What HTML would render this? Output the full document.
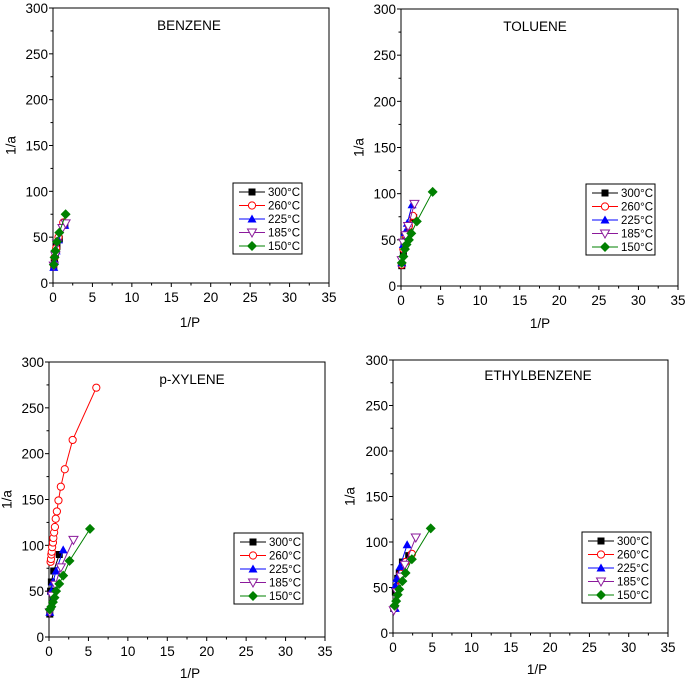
<!DOCTYPE html>
<html><head><meta charset="utf-8"><style>
body{margin:0;background:#fff}
svg{display:block;font-family:"Liberation Sans",Arial,sans-serif}
</style></head><body>
<svg id="chart" width="685" height="681" viewBox="0 0 685 681"></svg>
<script>
const seriesLabels = ["300°C","260°C","225°C","185°C","150°C"];
const seriesColors = ["#000000","#ff0000","#0000ff","#8b1a9b","#008000"];
const xTicks = [0,5,10,15,20,25,30,35];
const yTicks = [0,50,100,150,200,250,300];
const panelTitles = ["BENZENE","TOLUENE","p-XYLENE","ETHYLBENZENE"];

const benzene300 = [[0.1,18],[0.2,25],[0.3,32],[0.5,40],[0.8,48],[1.5,63]];
const benzene260 = [[0.1,20],[0.2,28],[0.4,38],[0.7,50],[1.3,66]];
const benzene225 = [[0.1,17],[0.2,24],[0.4,35],[0.7,47],[1.5,63]];
const benzene185 = [[0.1,19],[0.3,30],[0.5,43],[1.2,60],[1.6,65]];
const benzene150 = [[0.1,20],[0.2,28],[0.3,35],[0.5,45],[0.8,55],[1.6,75]];

const toluene300 = [[0.1,22],[0.3,35],[0.6,50],[1.0,60],[1.6,74]];
const toluene260 = [[0.1,23],[0.3,40],[0.6,55],[1.0,65],[1.5,76]];
const toluene225 = [[0.1,25],[0.3,45],[0.5,58],[0.8,68],[1.4,88]];
const toluene185 = [[0.1,28],[0.3,47],[0.6,55],[0.9,65],[1.7,89]];
const toluene150 = [[0.1,25],[0.3,32],[0.5,40],[0.7,45],[1.0,50],[1.3,57],[2.0,70],[4.0,102]];

const xylene300 = [[0.1,25],[0.2,50],[0.3,60],[0.6,72],[1.3,90]];
const xylene260 = [[0.2,82],[0.25,85],[0.3,90],[0.35,93],[0.4,98],[0.5,103],[0.55,108],[0.65,114],[0.75,120],[0.85,129],[1.0,137],[1.2,149],[1.5,164],[2.0,183],[3.0,215],[6.0,272]];
const xylene225 = [[0.1,27],[0.3,50],[0.5,60],[0.9,72],[1.8,95]];
const xylene185 = [[0.1,27],[0.4,45],[0.8,57],[1.5,76],[3.1,106]];
const xylene150 = [[0.1,30],[0.3,33],[0.5,38],[0.7,43],[0.9,50],[1.3,58],[1.8,67],[2.6,83],[5.2,118]];

const ethyl300 = [[0.1,27],[0.3,45],[0.6,60],[0.8,66],[1.2,78],[2.0,85]];
const ethyl260 = [[0.1,28],[0.5,50],[1.0,65],[1.6,78],[2.4,87]];
const ethyl225 = [[0.3,27],[0.3,52],[0.5,60],[0.9,73],[1.8,97]];
const ethyl185 = [[0.1,25],[0.5,45],[1.0,62],[1.5,75],[2.9,105]];
const ethyl150 = [[0.2,30],[0.4,35],[0.6,42],[0.8,48],[1.2,57],[1.6,66],[2.4,81],[4.8,115]];

const panelData = [
  [benzene300,benzene260,benzene225,benzene185,benzene150],
  [toluene300,toluene260,toluene225,toluene185,toluene150],
  [xylene300,xylene260,xylene225,xylene185,xylene150],
  [ethyl300,ethyl260,ethyl225,ethyl185,ethyl150]
];
const panels = [
  {l:53,r:329,t:8,b:283,lx:233,ly:183,tx:189,ty:30,px:190,py:327,yx:11},
  {l:401,r:678,t:9,b:286,lx:586,ly:184,tx:535,ty:31,px:540,py:328,yx:359},
  {l:49,r:325,t:362,b:637,lx:234,ly:533,tx:192,ty:384,px:190,py:678,yx:7},
  {l:393,r:668,t:360,b:633,lx:582,ly:532,tx:538,ty:380,px:537,py:674,yx:350}
];
const NS="http://www.w3.org/2000/svg";
const svg=document.getElementById('chart');
function mk(tag,attrs,parent){const e=document.createElementNS(NS,tag);for(const k in attrs)e.setAttribute(k,attrs[k]);(parent||svg).appendChild(e);return e;}
function marker(g,i,x,y,c){
  let e;
  if(i===0) e=mk('rect',{x:x-3.5,y:y-3.5,width:7,height:7,fill:c},g);
  else if(i===1) e=mk('circle',{cx:x,cy:y,r:3.6,fill:'#fff',stroke:c,'stroke-width':1},g);
  else if(i===2) e=mk('polygon',{points:`${x},${y-4.5} ${x+4.5},${y+3.5} ${x-4.5},${y+3.5}`,fill:c},g);
  else if(i===3) e=mk('polygon',{points:`${x-4.5},${y-3.5} ${x+4.5},${y-3.5} ${x},${y+4.5}`,fill:'#fff',stroke:c,'stroke-width':1},g);
  else e=mk('polygon',{points:`${x},${y-5} ${x+5},${y} ${x},${y+5} ${x-5},${y}`,fill:c},g);
  
  
}
panels.forEach((p,pi)=>{
  const g=mk('g',{});
  
  
  const X=v=>p.l+(v/35)*(p.r-p.l);
  const Y=v=>p.b-(v/300)*(p.b-p.t);
  const frame=mk('rect',{x:p.l,y:p.t,width:p.r-p.l,height:p.b-p.t,fill:'none',stroke:'#000','stroke-width':1},g);
  
  
  for(let v=0;v<=35;v+=2.5){const maj=v%5===0;mk('line',{x1:X(v),x2:X(v),y1:p.b,y2:p.b+(maj?4:2.5),stroke:'#000'},g);}
  for(let v=0;v<=300;v+=25){const maj=v%50===0;mk('line',{x1:p.l,x2:p.l-(maj?4:2.5),y1:Y(v),y2:Y(v),stroke:'#000'},g);}
  xTicks.forEach(v=>{const t=mk('text',{x:X(v),y:p.b+19,'text-anchor':'middle','font-size':13.5},g);t.textContent=v;
    });
  yTicks.forEach(v=>{const t=mk('text',{x:p.l-5,y:Y(v)+5,'text-anchor':'end','font-size':13.5},g);t.textContent=v;
    });
  const xt=mk('text',{x:p.px,y:p.py,'text-anchor':'middle','font-size':13.5},g);xt.textContent='1/P';
  
  const yc=(p.t+p.b)/2;
  const yt=mk('text',{x:p.yx,y:yc,'text-anchor':'middle','dominant-baseline':'central','font-size':13.5,transform:`rotate(-90 ${p.yx} ${yc})`},g);yt.textContent='1/a';
  
  const tt=mk('text',{x:p.tx,y:p.ty,'text-anchor':'middle','font-size':13.5},g);tt.textContent=panelTitles[pi];
  
  panelData[pi].forEach((s,si)=>{
    const c=seriesColors[si];
    const pl=mk('polyline',{points:s.map(d=>X(d[0])+','+Y(d[1])).join(' '),fill:'none',stroke:c,'stroke-width':1},g);
    
    
    s.forEach(d=>marker(g,si,X(d[0]),Y(d[1]),c));
  });
  const lg=mk('g',{},g);
  
  
  mk('rect',{x:p.lx,y:p.ly,width:69,height:71,fill:'#fff',stroke:'#000','stroke-width':1},lg);
  seriesLabels.forEach((lab,si)=>{
    const yy=p.ly+9+si*13.5;
    const c=seriesColors[si];
    mk('line',{x1:p.lx+6,x2:p.lx+32,y1:yy,y2:yy,stroke:c,'stroke-width':1},lg);
    marker(lg,si,p.lx+19,yy,c);
    const t=mk('text',{x:p.lx+35,y:yy+4,'font-size':11.5},lg);t.textContent=lab;
    
  });
});
</script>
</body></html>
